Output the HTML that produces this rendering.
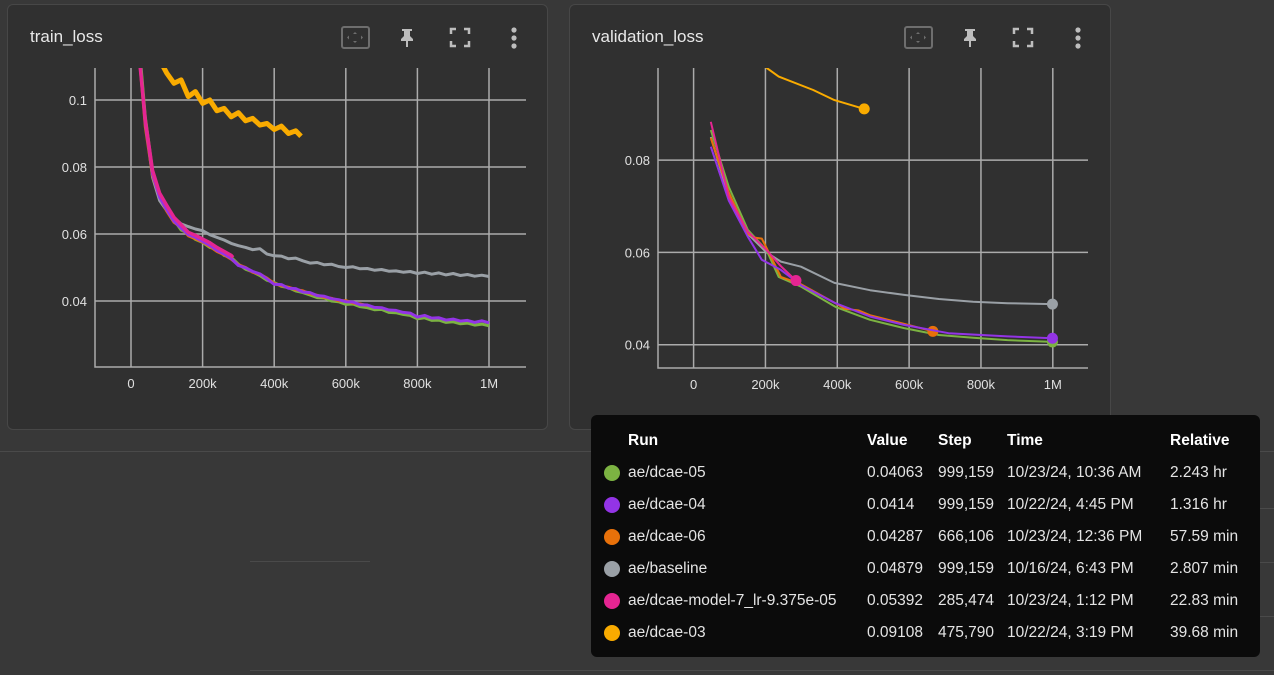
<!DOCTYPE html>
<html><head><meta charset="utf-8">
<style>
html,body{margin:0;padding:0;width:1274px;height:675px;overflow:hidden;background:#383838;font-family:"Liberation Sans",sans-serif;}
.card{position:absolute;background:#303030;border:1px solid #474747;border-radius:6px;box-sizing:border-box;}
.title{position:absolute;left:22px;top:22px;font-size:17px;color:#e8e8e8;}
.tip{position:absolute;left:591px;top:415px;width:669px;height:242px;background:#0b0b0b;border-radius:6px;color:#e4e4e4;font-size:15.5px;}
.tip div{position:absolute;white-space:nowrap;}
.hd{font-weight:bold;color:#fff;}
.dot{width:16px;height:16px;border-radius:50%;}
.bgl{position:absolute;height:1px;background:#4a4a4a;}
</style></head><body>
<div class="bgl" style="left:0;top:451px;width:1274px"></div>
<div class="bgl" style="left:1100px;top:508px;width:174px"></div>
<div class="bgl" style="left:1100px;top:562px;width:174px"></div>
<div class="bgl" style="left:250px;top:561px;width:120px"></div>
<div class="bgl" style="left:1100px;top:616px;width:174px"></div>
<div class="bgl" style="left:250px;top:670px;width:1024px"></div>

<div class="card" style="left:7px;top:4px;width:541px;height:426px">
  <div class="title">train_loss</div>
</div>
<div class="card" style="left:569px;top:4px;width:542px;height:426px">
  <div class="title">validation_loss</div>
</div>

<svg id="svg" width="1274" height="675" style="position:absolute;left:0;top:0">
<defs>
<clipPath id="c1"><rect x="95" y="68" width="431" height="299"/></clipPath>
<clipPath id="c2"><rect x="658" y="68" width="430" height="300"/></clipPath>
</defs>
<g id="icons"></g>
<g id="g1"></g>
<g id="g2"></g>
</svg>

<div class="tip">
  <div class="hd" style="left:37px;top:17px">Run</div>
  <div class="hd" style="left:276px;top:17px">Value</div>
  <div class="hd" style="left:347px;top:17px">Step</div>
  <div class="hd" style="left:416px;top:17px">Time</div>
  <div class="hd" style="left:579px;top:17px">Relative</div>
  <div id="rows"></div>
</div>

<script>
// ---------- train data ----------
const trainSteps = [20,40,60,80,100,120,140,160,180,200,220,240,260,280,300,320,340,360,380,400,420,440,460,480,500,520,540,560,580,600,620,640,660,680,700,720,740,760,780,800,820,840,860,880,900,920,940,960,980,1000];
const trainGray = [.1190,.0940,.0770,.0700,.0670,.0648,.0630,.0622,.0615,.0610,.0598,.0590,.0582,.0572,.0565,.0560,.0553,.0556,.0540,.0535,.0534,.0526,.0528,.0520,.0513,.0515,.0508,.0510,.0503,.0500,.0502,.0496,.0497,.0492,.0494,.0489,.0490,.0486,.0488,.0482,.0486,.0480,.0484,.0478,.0482,.0476,.0479,.0474,.0477,.0473];
const trainGreen = [.1200,.0950,.0790,.0720,.0680,.0642,.0612,.0602,.0584,.0575,.0560,.0555,.0536,.0530,.0510,.0495,.0487,.0476,.0462,.0455,.0444,.0440,.0430,.0425,.0418,.0410,.0409,.0400,.0398,.0390,.0391,.0383,.0380,.0374,.0375,.0366,.0365,.0360,.0357,.0347,.0350,.0342,.0343,.0336,.0338,.0332,.0334,.0328,.0331,.0326];
const trainOrange = [.1170,.0920,.0775,.0712,.0668,.0635,.0620,.0595,.0586,.0576,.0563,.0548,.0538,.0525,.0508,.0500,.0486,.0480,.0468,.0452,.0446,.0441,.0434,.0430,.0422,.0417,.0411,.0408,.0401,.0401,.0394,.0391,.0386];
const trainPurple = [.1180,.0930,.0780,.0710,.0672,.0638,.0618,.0598,.0590,.0578,.0566,.0551,.0540,.0527,.0506,.0499,.0488,.0481,.0466,.0450,.0449,.0438,.0437,.0427,.0425,.0416,.0414,.0407,.0404,.0398,.0397,.0389,.0388,.0381,.0380,.0373,.0372,.0366,.0364,.0352,.0357,.0349,.0350,.0343,.0346,.0340,.0342,.0336,.0341,.0335];
const trainPinkSteps = [20,40,60,80,100,120,140,160,180,200,220,240,260,280,285];
const trainPink = [.1160,.0940,.0790,.0722,.0685,.0650,.0628,.0605,.0596,.0585,.0574,.0560,.0548,.0536,.0530];
const trainYellowSteps = [80,100,120,140,160,180,200,220,240,260,280,300,320,340,360,380,400,420,440,460,475];
const trainYellow = [.1120,.1080,.1050,.1060,.1010,.1025,.0990,.1000,.0968,.0975,.0950,.0962,.0938,.0945,.0925,.0930,.0912,.0922,.0900,.0908,.0892];
const trainYTicks = [0.04,0.06,0.08,0.1];
const trainYLabels = ["0.04","0.06","0.08","0.1"];
// ---------- validation data ----------
const valGreenSteps = [48,98,151,203,237,299,395,491,586,683,778,874,999];
const valGreen = [.0865,.0742,.0649,.0605,.0547,.0526,.0482,.0454,.0436,.0421,.0415,.0410,.0406];
const valPurpleSteps = [48,98,151,190,243,299,395,491,586,710,874,999];
const valPurple = [.0829,.0712,.0634,.0584,.0562,.0529,.0490,.0461,.0443,.0425,.0418,.0414];
const valOrangeSteps = [48,98,151,170,190,203,243,299,395,420,460,491,586,666];
const valOrange = [.0848,.0730,.0640,.0632,.0630,.0610,.0547,.0531,.0490,.0478,.0474,.0464,.0445,.0429];
const valGraySteps = [48,98,151,203,243,299,392,491,586,683,778,874,999];
const valGray = [.0850,.0720,.0640,.0600,.0580,.0569,.0534,.0518,.0508,.0499,.0493,.0490,.04879];
const valPinkSteps = [48,98,151,203,243,285];
const valPink = [.0883,.0720,.0645,.0605,.0570,.0539];
const valYellowSteps = [180,203,237,333,392,475];
const valYellow = [.1020,.1000,.0981,.0952,.0930,.0911];
const valYTicks = [0.04,0.06,0.08];
const valYLabels = ["0.04","0.06","0.08"];
const xTicks = [0,200,400,600,800,1000];
const xLabels = ["0","200k","400k","600k","800k","1M"];
// ---------- tooltip data ----------
const runNames = ["ae/dcae-05","ae/dcae-04","ae/dcae-06","ae/baseline","ae/dcae-model-7_lr-9.375e-05","ae/dcae-03"];
const runValues = ["0.04063","0.0414","0.04287","0.04879","0.05392","0.09108"];
const runSteps = ["999,159","999,159","666,106","999,159","285,474","475,790"];
const runTimes = ["10/23/24, 10:36 AM","10/22/24, 4:45 PM","10/23/24, 12:36 PM","10/16/24, 6:43 PM","10/23/24, 1:12 PM","10/22/24, 3:19 PM"];
const runRel = ["2.243 hr","1.316 hr","57.59 min","2.807 min","22.83 min","39.68 min"];

const C = {green:"#7cb342",purple:"#9334e6",orange:"#e8710a",gray:"#9aa0a6",pink:"#e52592",yellow:"#f9ab00"};
const runColors = [C.green,C.purple,C.orange,C.gray,C.pink,C.yellow];
const NS = "http://www.w3.org/2000/svg";
function mk(tag, attrs, parent){const e=document.createElementNS(NS,tag);for(const k in attrs)e.setAttribute(k,attrs[k]);parent.appendChild(e);return e;}

function chart(g, clip, x0, x1M, yAt, yPer, left, right, top, bottom, yTicks, yLabels){
  const X = s => x0 + s/1000*(x1M-x0);
  const Y = v => yAt - (v-0.04)/0.02*yPer;
  for(let i=0;i<yTicks.length;i++){
    const y=Y(yTicks[i]);
    const l=mk("line",{x1:left,x2:right,y1:y,y2:y,stroke:"#ababab","stroke-width":1.5},g);
    
    
    const t=mk("text",{x:left-8,y:y+5,"text-anchor":"end",fill:"#e0e0e0","font-size":13,"font-family":"Liberation Sans, sans-serif"},g);
    t.textContent=yLabels[i];
    
    
  }
  for(let i=0;i<xTicks.length;i++){
    const x=X(xTicks[i]);
    const l=mk("line",{x1:x,x2:x,y1:top,y2:bottom,stroke:"#ababab","stroke-width":1.5},g);
    
    
    const t=mk("text",{x:x,y:bottom+21,"text-anchor":"middle",fill:"#e0e0e0","font-size":13,"font-family":"Liberation Sans, sans-serif"},g);
    t.textContent=xLabels[i];
    
    
  }
  const ax=mk("path",{d:`M${left} ${top} V${bottom} H${right}`,stroke:"#ababab","stroke-width":1.5,fill:"none"},g);
  
  
  const pg=mk("g",{"clip-path":`url(#${clip})`},g);
  return {X,Y,pg};
}
function line(c, steps, vals, color, w, name, dot){
  const d=steps.map((s,i)=>(i?"L":"M")+c.X(s).toFixed(1)+" "+c.Y(vals[i]).toFixed(1)).join(" ");
  const p=mk("path",{d:d,stroke:color,"stroke-width":w,fill:"none","stroke-linejoin":"round"},c.pg);
  
  
  if(dot){
    const n=steps.length-1;
    const ci=mk("circle",{cx:c.X(steps[n]),cy:c.Y(vals[n]),r:5.5,fill:color},c.pg);
    
    
  }
}
const g1=document.getElementById('g1'), g2=document.getElementById('g2');
const c1=chart(g1,"c1",131,489,301,67,95,526,68,367,trainYTicks,trainYLabels);
line(c1,trainSteps,trainGray,C.gray,3,'train-line-baseline');
line(c1,trainSteps,trainGreen,C.green,3,'train-line-dcae-05');
line(c1,trainSteps.slice(0,trainOrange.length),trainOrange,C.orange,3,'train-line-dcae-06');
line(c1,trainSteps,trainPurple,C.purple,3,'train-line-dcae-04');
line(c1,trainPinkSteps,trainPink,C.pink,3.5,'train-line-dcae-model-7');
line(c1,trainYellowSteps,trainYellow,C.yellow,5,'train-line-dcae-03');
const c2=chart(g2,"c2",693.6,1052.8,344.7,92.3,658,1088,68,368,valYTicks,valYLabels);
line(c2,valGraySteps,valGray,C.gray,2,'val-line-baseline',true);
line(c2,valGreenSteps,valGreen,C.green,2,'val-line-dcae-05',true);
line(c2,valOrangeSteps,valOrange,C.orange,2,'val-line-dcae-06',true);
line(c2,valPurpleSteps,valPurple,C.purple,2,'val-line-dcae-04',true);
line(c2,valPinkSteps,valPink,C.pink,2,'val-line-dcae-model-7',true);
line(c2,valYellowSteps,valYellow,C.yellow,2,'val-line-dcae-03',true);

// header icons
const ic=document.getElementById('icons');
[[355,407,460,514],[918,970,1023,1078]].forEach(xs=>{
  const a=mk("g",{},ic);
  
  
  mk("rect",{x:xs[0]-13,y:27,width:27,height:21,rx:2,fill:"none",stroke:"#6e6e6e","stroke-width":2},a);
  mk("path",{d:`M${xs[0]} 32 l-2 2 h4z M${xs[0]} 43 l-2 -2 h4z M${xs[0]-8} 37.5 l2 -2 v4z M${xs[0]+8} 37.5 l-2 -2 v4z`,fill:"#6e6e6e"},a);
  const b=mk("g",{},ic);
  
  
  mk("path",{d:`M${xs[1]-5} 29 h10 v2 h-2 v5 l3 3 v2 h-5 v6 h-2 v-6 h-5 v-2 l3 -3 v-5 h-2z`,fill:"#bdbdbd"},b);
  const c=mk("g",{},ic);
  
  
  const q=xs[2];
  mk("path",{d:`M${q-9} 34 v-5 h5 M${q+4} 29 h5 v5 M${q+9} 41 v5 h-5 M${q-4} 46 h-5 v-5`,stroke:"#bdbdbd","stroke-width":2.5,fill:"none"},c);
  const d=mk("g",{},ic);
  
  
  [30,38,46].forEach(y=>mk("circle",{cx:xs[3],cy:y,r:2.6,fill:"#bdbdbd"},d));
});

// tooltip rows
const rows=document.getElementById('rows');
for(let i=0;i<runNames.length;i++){
  const top=49+i*32;
  const cells=[[13,null],[37,runNames[i]],[276,runValues[i]],[347,runSteps[i]],[416,runTimes[i]],[579,runRel[i]]];
  cells.forEach((c,j)=>{
    const el=document.createElement('div');
    el.style.left=c[0]+'px';
    if(j===0){el.className='dot';el.style.top=(top+1)+'px';el.style.background=runColors[i];
      }
    else{el.style.top=top+'px';el.textContent=c[1];
      }
    
    rows.appendChild(el);
  });
}
</script>
</body></html>
